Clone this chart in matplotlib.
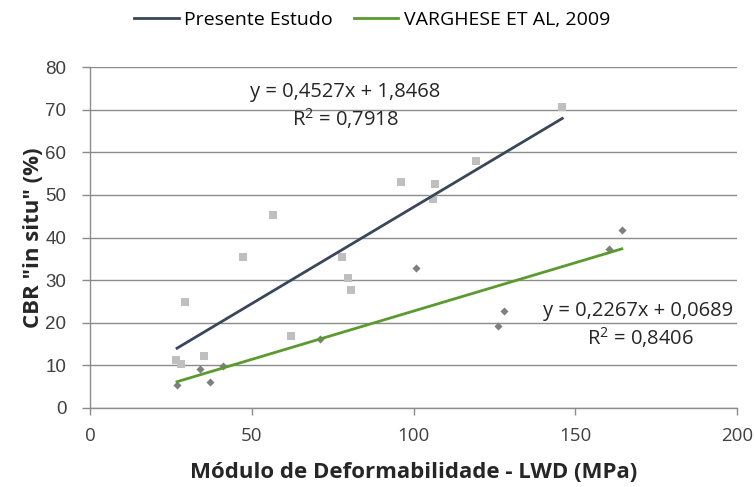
import matplotlib
matplotlib.use("Agg")
import matplotlib.pyplot as plt
import numpy as np

# Presente Estudo (squares)
pe_x = [26.5, 28.0, 29.3, 35.1, 47.3, 56.6, 62.1, 78.0, 79.6, 80.6, 96.0, 105.9, 106.6, 119.4, 146.0]
pe_y = [11.3, 10.3, 24.8, 12.3, 35.4, 45.3, 17.0, 35.4, 30.4, 27.6, 53.1, 49.0, 52.5, 57.9, 70.5]
# Varghese et al, 2009 (diamonds)
va_x = [26.9, 33.9, 37.0, 41.1, 71.0, 100.9, 126.1, 128.1, 160.4, 164.4]
va_y = [5.4, 9.1, 6.1, 9.9, 16.3, 32.9, 19.3, 22.8, 37.2, 41.8]

pe_coef = (0.4527, 1.8468)
va_coef = (0.2267, 0.0689)
pe_range = (26.9, 146.0)
va_range = (26.9, 164.4)

series_labels = ["Presente Estudo", "VARGHESE ET AL, 2009"]
eq_pe = ["y = 0,4527x + 1,8468", "R$^2$ = 0,7918"]
eq_va = ["y = 0,2267x + 0,0689", "R$^2$ = 0,8406"]
xticks = [0, 50, 100, 150, 200]
yticks = [0, 10, 20, 30, 40, 50, 60, 70, 80]

plt.rcParams['font.family'] = ['Open Sans', 'DejaVu Sans']
plt.rcParams['mathtext.fontset'] = 'custom'
plt.rcParams['mathtext.rm'] = 'Open Sans'
fig = plt.figure(figsize=(7.55, 4.87), dpi=100)
ax = fig.add_axes([90/755, 1-408/487, (737-90)/755, (408-67)/487])

grid_c = '#8c8c8c'
for y in yticks:
    ax.axhline(y, color=grid_c, lw=1.0, zorder=0)

ax.scatter(pe_x, pe_y, marker='s', s=30, color='#bfbfbf', zorder=3, linewidths=0)
ax.scatter(va_x, va_y, marker='D', s=17, color='#7f7f7f', zorder=3, linewidths=0)

line_pe_c = '#3a4659'
line_va_c = '#5a9a2e'
xx = np.array(pe_range)
ax.plot(xx, pe_coef[0]*xx + pe_coef[1], color=line_pe_c, lw=2.0, zorder=4, label=series_labels[0])
xx = np.array(va_range)
ax.plot(xx, va_coef[0]*xx + va_coef[1], color=line_va_c, lw=2.0, zorder=4, label=series_labels[1])

ax.set_xlim(0, 200)
ax.set_ylim(0, 80)
ax.set_xticks(xticks)
ax.set_yticks(yticks)
for s in ['top', 'right']:
    ax.spines[s].set_visible(False)
for s in ['left', 'bottom']:
    ax.spines[s].set_color(grid_c)
    ax.spines[s].set_linewidth(1.0)
ax.tick_params(axis='x', direction='out', length=5, color=grid_c, width=1.0,
               labelsize=13.5, labelcolor='#404040', pad=9)
ax.tick_params(axis='y', direction='out', length=5.5, color=grid_c, width=1.0,
               labelsize=13.5, labelcolor='#404040', pad=11.5)
for lab in ax.get_yticklabels():
    lab.set_family(['Liberation Sans', 'DejaVu Sans'])

ax.set_xlabel("Módulo de Deformabilidade - LWD (MPa)", fontsize=16, fontweight='bold', color='#262626', labelpad=12)
ax.set_ylabel('CBR "in situ" (%)', fontsize=16, fontweight='bold', color='#262626', labelpad=1)

eq_fs = 14.5
ax.annotate(eq_pe[0], xy=(345/755, 1-92/487), xycoords='figure fraction', ha='center', va='center', fontsize=eq_fs, color='#262626')
ax.annotate(eq_pe[1], xy=(345/755, 1-119/487), xycoords='figure fraction', ha='center', va='center', fontsize=eq_fs, color='#262626')
ax.annotate(eq_va[0], xy=(638/755, 1-311/487), xycoords='figure fraction', ha='center', va='center', fontsize=eq_fs, color='#262626')
ax.annotate(eq_va[1], xy=(640/755, 1-338/487), xycoords='figure fraction', ha='center', va='center', fontsize=eq_fs, color='#262626')

fig.legend(loc='center', bbox_to_anchor=(372/755, 1-20/487), ncol=2, frameon=False,
           fontsize=14, handlelength=2.3, handletextpad=0.27, columnspacing=1.07)

fig.savefig("out.png", dpi=100)
